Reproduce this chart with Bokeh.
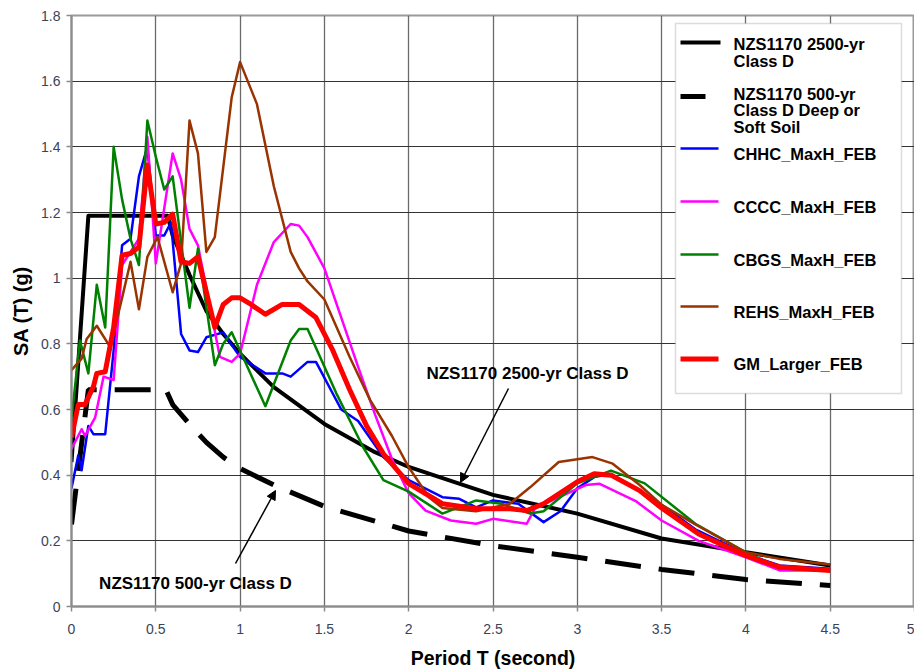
from bokeh.plotting import figure
from bokeh.models import (Range1d, FixedTicker, NumeralTickFormatter, BoxAnnotation,
                          Label, Arrow, NormalHead)
from bokeh.embed import file_html
from bokeh.resources import INLINE

# ---------------- data ----------------
x_ticks = [0, 0.5, 1, 1.5, 2, 2.5, 3, 3.5, 4, 4.5, 5]
y_ticks = [0, 0.2, 0.4, 0.6, 0.8, 1.0, 1.2, 1.4, 1.6, 1.8]

t_2500 = [0.0, 0.1, 0.2, 0.3, 0.4, 0.5, 0.57, 0.6, 0.7, 0.8, 0.9, 1.0, 1.2, 1.5, 1.8, 2.0, 2.5, 3.0, 3.5, 4.0, 4.5]
sa_2500 = [0.44, 1.19, 1.19, 1.19, 1.19, 1.19, 1.19, 1.13, 1.01, 0.90, 0.83, 0.77, 0.668, 0.556, 0.47, 0.425, 0.34, 0.283, 0.207, 0.165, 0.125]

t_500 = [0.0, 0.1, 0.2, 0.3, 0.4, 0.5, 0.56, 0.6, 0.7, 0.8, 0.9, 1.0, 1.2, 1.5, 2.0, 2.5, 3.0, 3.5, 4.0, 4.5]
sa_500 = [0.25, 0.66, 0.66, 0.66, 0.66, 0.66, 0.66, 0.615, 0.555, 0.50, 0.455, 0.42, 0.37, 0.305, 0.23, 0.185, 0.15, 0.113, 0.082, 0.064]

t_chhc = [0.0, 0.04, 0.06, 0.1, 0.13, 0.2, 0.25, 0.3, 0.35, 0.4, 0.45, 0.5, 0.55, 0.59, 0.65, 0.7, 0.75,
          0.8, 0.9, 1.0, 1.15, 1.25, 1.3, 1.4, 1.45, 1.6, 1.7, 1.85, 2.0, 2.2, 2.3, 2.4, 2.5, 2.65, 2.8,
          2.9, 3.0, 3.1, 3.2, 3.5, 3.7, 4.0, 4.2, 4.5]
sa_chhc = [0.36, 0.46, 0.415, 0.55, 0.525, 0.525, 0.78, 1.10, 1.12, 1.31, 1.40, 1.13, 1.13, 1.17, 0.83, 0.78, 0.775,
           0.82, 0.835, 0.76, 0.71, 0.71, 0.70, 0.745, 0.745, 0.60, 0.565, 0.455, 0.385, 0.333, 0.328, 0.302, 0.323, 0.313, 0.257,
           0.29, 0.36, 0.394, 0.404, 0.31, 0.235, 0.16, 0.125, 0.115]

t_cccc = [0.0, 0.06, 0.08, 0.14, 0.19, 0.25, 0.3, 0.35, 0.4, 0.45, 0.5, 0.6, 0.65, 0.7, 0.75, 0.88, 0.95, 1.0,
          1.1, 1.2, 1.3, 1.35, 1.4, 1.5, 1.6, 1.7, 1.8, 1.9, 2.0, 2.1, 2.25, 2.4, 2.5, 2.7, 2.75, 3.05, 3.13,
          3.35, 3.5, 3.72, 4.0, 4.2, 4.5]
sa_cccc = [0.48, 0.54, 0.52, 0.575, 0.70, 0.69, 1.04, 1.08, 1.12, 1.43, 1.045, 1.38, 1.30, 1.15, 1.10, 0.76, 0.745, 0.77,
           0.98, 1.11, 1.165, 1.16, 1.125, 1.03, 0.88, 0.73, 0.585, 0.45, 0.345, 0.292, 0.262, 0.252, 0.267, 0.252, 0.30, 0.37, 0.374,
           0.32, 0.262, 0.20, 0.15, 0.11, 0.11]

t_cbgs = [0.0, 0.05, 0.1, 0.15, 0.2, 0.25, 0.3, 0.35, 0.4, 0.45, 0.5, 0.55, 0.6, 0.7, 0.75, 0.85, 0.9, 0.95,
          1.15, 1.3, 1.35, 1.4, 1.57, 1.73, 1.85, 2.0, 2.2, 2.4, 2.55, 2.72, 2.8, 3.0, 3.2, 3.4, 3.7, 4.0, 4.2, 4.5]
sa_cbgs = [0.57, 0.81, 0.71, 0.98, 0.85, 1.40, 1.24, 1.12, 1.04, 1.48, 1.37, 1.27, 1.31, 0.91, 1.09, 0.735, 0.80, 0.835,
           0.61, 0.81, 0.845, 0.845, 0.65, 0.485, 0.385, 0.35, 0.283, 0.323, 0.313, 0.283, 0.29, 0.375, 0.414, 0.375, 0.252, 0.165, 0.116, 0.11]

t_rehs = [0.0, 0.06, 0.09, 0.15, 0.23, 0.3, 0.35, 0.4, 0.45, 0.51, 0.6, 0.65, 0.7, 0.75, 0.8, 0.85, 0.95, 1.0,
          1.1, 1.2, 1.3, 1.35, 1.4, 1.5, 1.65, 1.77, 1.9, 2.0, 2.12, 2.2, 2.4, 2.6, 2.72, 2.89, 3.09, 3.21, 3.37,
          3.5, 3.7, 4.0, 4.2, 4.5]
sa_rehs = [0.72, 0.755, 0.815, 0.855, 0.79, 0.94, 1.05, 0.905, 1.065, 1.125, 0.957, 1.045, 1.48, 1.38, 1.08, 1.125, 1.55, 1.658,
           1.53, 1.28, 1.08, 1.03, 0.99, 0.935, 0.76, 0.63, 0.52, 0.424, 0.333, 0.30, 0.29, 0.313, 0.363, 0.44, 0.455, 0.435, 0.37,
           0.31, 0.25, 0.165, 0.145, 0.128]

t_gm = [0.0, 0.04, 0.08, 0.13, 0.15, 0.2, 0.25, 0.3, 0.35, 0.4, 0.45, 0.5, 0.55, 0.6, 0.65, 0.7, 0.75, 0.85,
        0.9, 0.95, 1.0, 1.05, 1.15, 1.25, 1.35, 1.45, 1.55, 1.65, 1.75, 1.85, 2.0, 2.2, 2.4, 2.6, 2.7, 2.8, 3.0,
        3.1, 3.2, 3.37, 3.5, 3.72, 4.0, 4.2, 4.5]
sa_gm = [0.515, 0.615, 0.615, 0.67, 0.71, 0.715, 0.85, 1.07, 1.075, 1.095, 1.345, 1.165, 1.17, 1.195, 1.05, 1.045, 1.065, 0.85,
         0.92, 0.94, 0.94, 0.925, 0.89, 0.92, 0.92, 0.88, 0.78, 0.66, 0.55, 0.465, 0.374, 0.313, 0.298, 0.298, 0.292, 0.313, 0.38,
         0.404, 0.40, 0.353, 0.30, 0.221, 0.155, 0.12, 0.11]

series_names = ["NZS1170 2500-yr Class D", "NZS1170 500-yr Class D Deep or Soft Soil",
                "CHHC_MaxH_FEB", "CCCC_MaxH_FEB", "CBGS_MaxH_FEB", "REHS_MaxH_FEB", "GM_Larger_FEB"]

# ---------------- figure ----------------
FONT = "Liberation Sans"
p = figure(width=914, height=671, output_backend="svg", toolbar_location=None,
           x_range=Range1d(0, 5), y_range=Range1d(0, 1.8),
           min_border_left=71, min_border_right=0, min_border_top=15, min_border_bottom=65)
p.background_fill_color = "white"
p.border_fill_color = "white"
p.outline_line_color = "#9a9a9a"
p.outline_line_width = 2

p.xaxis.ticker = FixedTicker(ticks=x_ticks)
p.yaxis.ticker = FixedTicker(ticks=y_ticks)
for ax in (p.xaxis, p.yaxis):
    ax.formatter = NumeralTickFormatter(format="0.[0]")
    ax.axis_line_color = "#8c8c8c"
    ax.axis_line_width = 2
    ax.major_tick_line_color = "#8c8c8c"
    ax.major_tick_line_width = 1.5
    ax.major_tick_out = 5
    ax.major_tick_in = 0
    ax.minor_tick_line_color = None
    ax.major_label_text_font = FONT
    ax.major_label_text_font_size = "14px"
    ax.major_label_text_color = "#3a4458"
    ax.axis_label_text_font = FONT
    ax.axis_label_text_font_style = "bold"
    ax.axis_label_text_color = "black"
p.xaxis.axis_label_text_font_size = "19.5px"
p.yaxis.axis_label_text_font_size = "20px"
p.xaxis.major_label_standoff = 12
p.yaxis.major_label_standoff = 6
p.xaxis.axis_label = "Period T (second)"
p.yaxis.axis_label = "SA (T) (g)"
p.xaxis.axis_label_standoff = 10
p.yaxis.axis_label_standoff = 6

p.xgrid.grid_line_color = "#6a6a6a"
p.xgrid.grid_line_width = 1.3
p.ygrid.grid_line_color = "#333333"
p.ygrid.grid_line_width = 1

# ---------------- curves ----------------
p.line(t_2500, sa_2500, line_color="black", line_width=4, line_join="round")
p.line(t_500, sa_500, line_color="black", line_width=5, line_dash="36 18")
p.line(t_chhc, sa_chhc, line_color="#0000ff", line_width=2.5, line_join="round")
p.line(t_cccc, sa_cccc, line_color="#ff00ff", line_width=2.5, line_join="round")
p.line(t_cbgs, sa_cbgs, line_color="#008000", line_width=2.5, line_join="round")
p.line(t_rehs, sa_rehs, line_color="#993300", line_width=2.5, line_join="round")
p.line(t_gm, sa_gm, line_color="#ff0000", line_width=5, line_join="round")

# ---------------- decorations (pixel positions converted to axis units) ----------------
def px_x(px):
    return (px - 71) / 168.6

def px_y(py):
    return (606 - py) / 328.33

box = BoxAnnotation(left=px_x(675), right=px_x(901), top=px_y(23), bottom=px_y(393),
                    fill_color="white", fill_alpha=1.0, line_color="#8c8c8c", line_width=1.5)
p.add_layout(box)

legend_rows = [
    (["NZS1170 2500-yr", "Class D"], "black", 4, 720, 42, [44, 61]),
    (["NZS1170 500-yr", "Class D Deep or", "Soft Soil"], "black", 5, 705, 96, [93.5, 110, 126.5]),
    (["CHHC_MaxH_FEB"], "#0000ff", 2.5, 718, 148, [154]),
    (["CCCC_MaxH_FEB"], "#ff00ff", 2.5, 718, 201, [207]),
    (["CBGS_MaxH_FEB"], "#008000", 2.5, 718, 254, [260]),
    (["REHS_MaxH_FEB"], "#993300", 2.5, 718, 306, [312]),
    (["GM_Larger_FEB"], "#ff0000", 5, 718, 358.5, [364]),
]
for lines, color, lw, xend, ys, bases in legend_rows:
    p.add_layout(Arrow(start=None, end=None, x_start=px_x(680), y_start=px_y(ys),
                       x_end=px_x(xend), y_end=px_y(ys), line_color=color, line_width=lw))
    for txt, b in zip(lines, bases):
        p.add_layout(Label(x=px_x(733), y=px_y(b), text=txt, text_font=FONT,
                           text_font_size="16.5px", text_font_style="bold", text_color="black",
                           text_align="left", text_baseline="alphabetic"))

# annotations with arrows
p.add_layout(Label(x=px_x(527), y=px_y(373), text="NZS1170 2500-yr Class D", text_font=FONT,
                   text_font_size="17px", text_font_style="bold", text_align="center",
                   text_baseline="middle", text_color="black"))
p.add_layout(Arrow(end=NormalHead(size=9, fill_color="black", line_color="black"),
                   x_start=px_x(508), y_start=px_y(388), x_end=px_x(460), y_end=px_y(482),
                   line_color="black", line_width=1.5))
p.add_layout(Label(x=px_x(195), y=px_y(583), text="NZS1170 500-yr Class D", text_font=FONT,
                   text_font_size="17px", text_font_style="bold", text_align="center",
                   text_baseline="middle", text_color="black"))
p.add_layout(Arrow(end=NormalHead(size=9, fill_color="black", line_color="black"),
                   x_start=px_x(235), y_start=px_y(563), x_end=px_x(275), y_end=px_y(490),
                   line_color="black", line_width=1.5))

open("out.html", "w").write(file_html(p, INLINE))
